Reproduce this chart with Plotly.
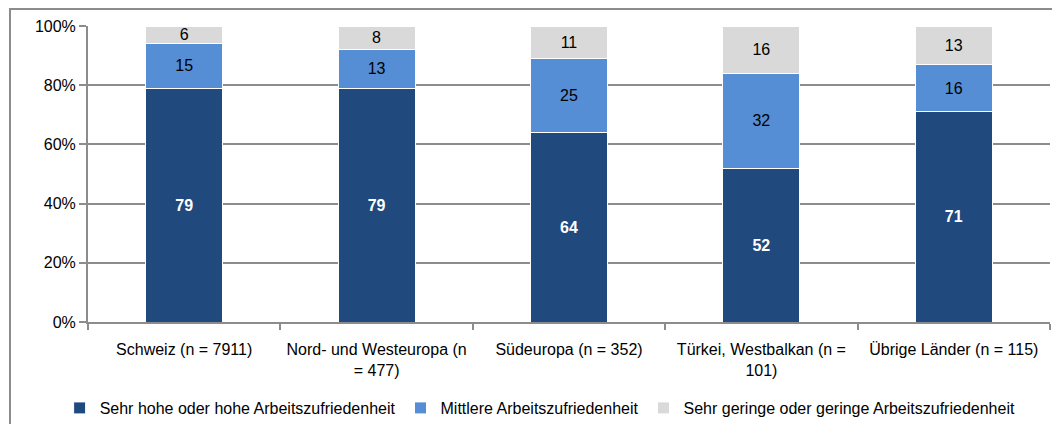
import plotly.graph_objects as go

categories = ["Schweiz (n = 7911)", "Nord- und Westeuropa (n<br>= 477)", "Südeuropa (n = 352)",
              "Türkei, Westbalkan (n =<br>101)", "Übrige Länder (n = 115)"]
hoch = [79, 79, 64, 52, 71]
mittel = [15, 13, 25, 32, 16]
gering = [6, 8, 11, 16, 13]
names = ["Sehr hohe oder hohe Arbeitszufriedenheit", "Mittlere Arbeitszufriedenheit",
         "Sehr geringe oder geringe Arbeitszufriedenheit"]
colors = ["#204A7E", "#558ED5", "#D9D9D9"]

FONT = "Liberation Sans, Arial, sans-serif"
fig = go.Figure()
for vals, name, col, tcol, bold in [(hoch, names[0], colors[0], "white", True),
                                    (mittel, names[1], colors[1], "black", False),
                                    (gering, names[2], colors[2], "black", False)]:
    fig.add_trace(go.Bar(
        x=categories, y=vals, name=name,
        marker=dict(color=col, line=dict(color="white", width=1)),
        text=[f"<b>{v}</b>" if bold else str(v) for v in vals],
        textposition="inside", insidetextanchor="middle", textangle=0,
        constraintext="none",
        textfont=dict(color=tcol, size=16, family=FONT),
        hoverinfo="skip",
    ))

# page body has an 8px margin; figure coordinates are offset accordingly
OFF = 8
W, H = 1060 - OFF, 424 - OFF
ml, mr, mt, mb = 88 - OFF, 10, 26 - OFF, 102
pw, ph = W - ml - mr, H - mt - mb

fig.update_layout(
    width=W, height=H, barmode="stack", bargap=0.6,
    margin=dict(l=ml, r=mr, t=mt, b=mb, autoexpand=False),
    paper_bgcolor="white", plot_bgcolor="white",
    font=dict(family=FONT, size=16, color="black"),
    showlegend=True,
    legend=dict(orientation="h", x=0.47, xanchor="center", y=-86 / ph, yanchor="middle",
                font=dict(size=16), itemwidth=30, traceorder="normal", tracegroupgap=0),
    xaxis=dict(showline=True, linecolor="#8C8C8C", linewidth=2, ticks="outside",
               tickson="boundaries", ticklen=6, tickcolor="#8C8C8C", tickwidth=2,
               tickfont=dict(size=16), showgrid=False, automargin=False,
               ticklabelstandoff=12),
    yaxis=dict(range=[0, 100], tickvals=[0, 20, 40, 60, 80, 100],
               ticktext=["0%", "20%", "40%", "60%", "80%", "100%"],
               showline=True, linecolor="#8C8C8C", linewidth=2, ticks="outside",
               ticklen=7, tickcolor="#8C8C8C", tickwidth=2,
               showgrid=True, gridcolor="#8C8C8C", gridwidth=2,
               tickfont=dict(size=16), zeroline=False, automargin=False),
)

fig.add_shape(type="rect", xref="paper", yref="paper",
              x0=(10 - 88) / pw, x1=(1075 - 88) / pw,
              y0=-(mb + 20) / ph, y1=1 + (26 - 9) / ph,
              line=dict(color="#8C8C8C", width=2), fillcolor="rgba(0,0,0,0)", layer="below")

fig.write_html("out.html")
